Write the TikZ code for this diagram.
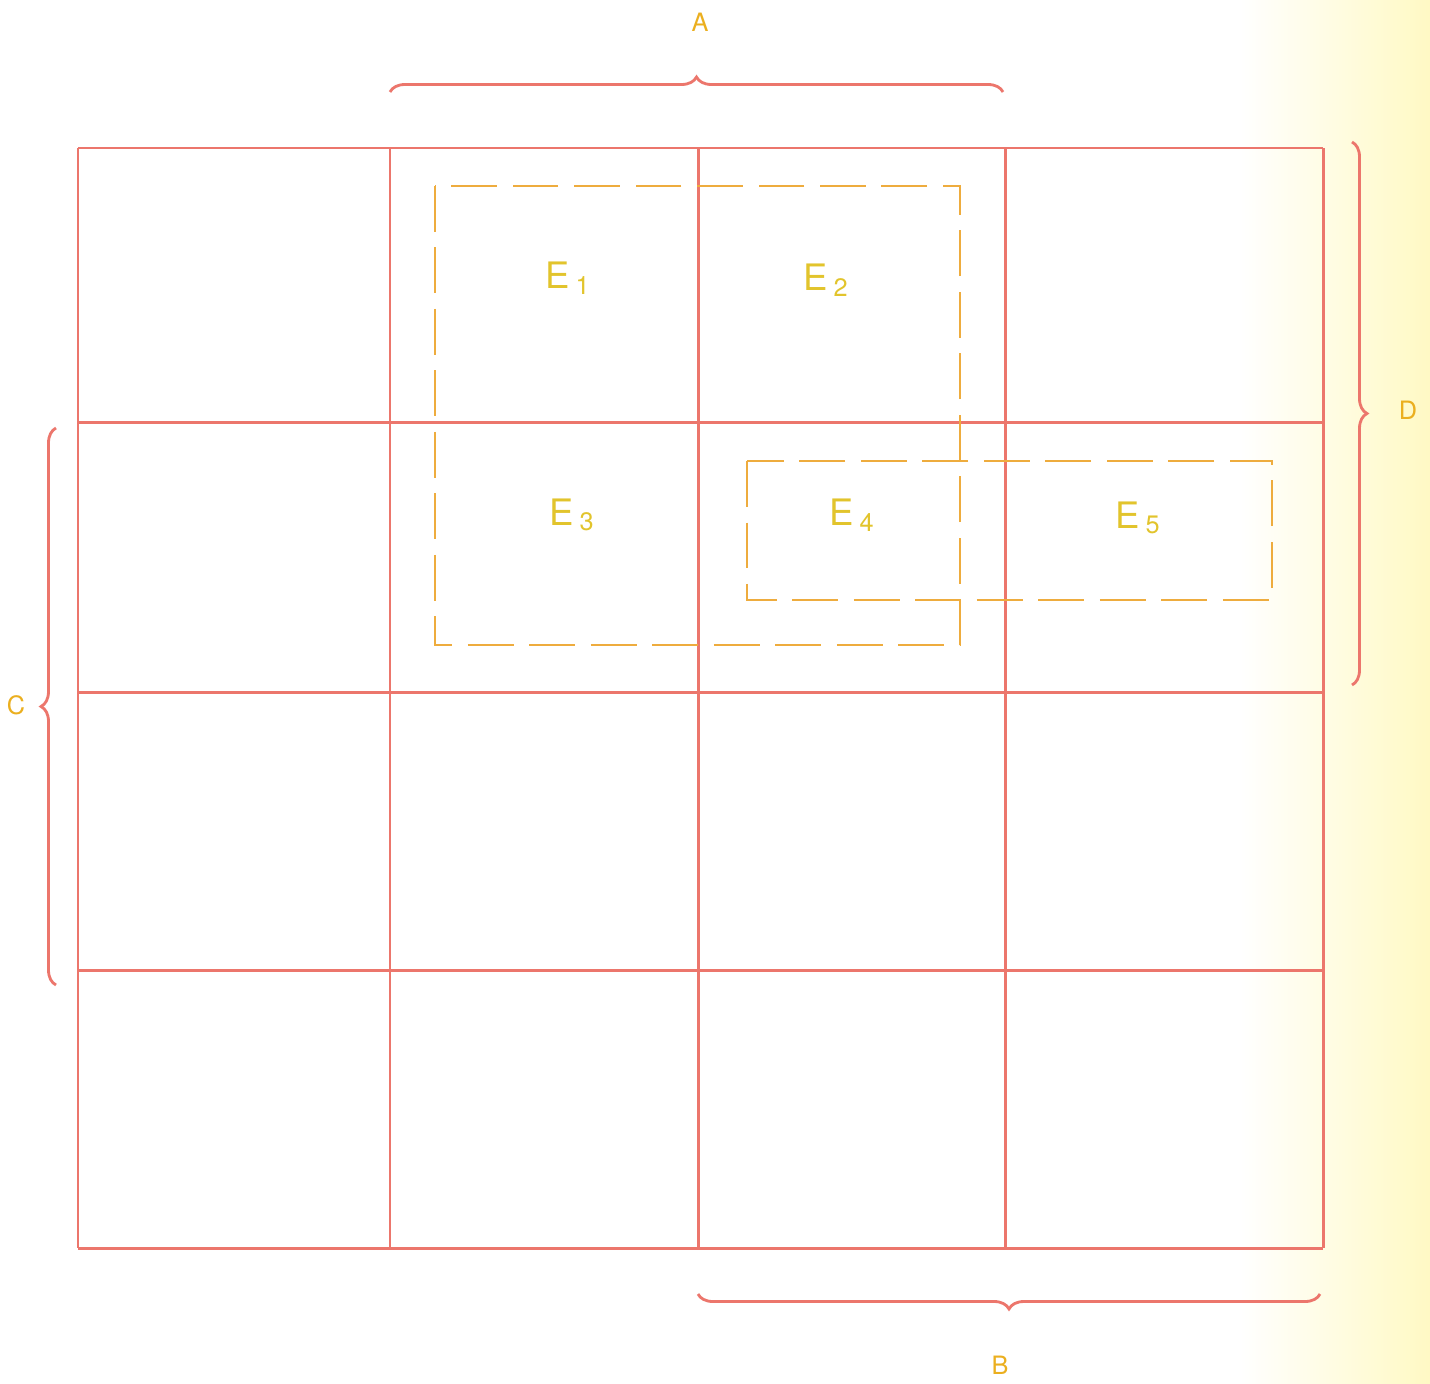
\documentclass[tikz,border=0pt]{standalone}
\usepackage{fontspec}
\setsansfont{TeX Gyre Heros}
\usetikzlibrary{positioning,decorations.pathreplacing}

\definecolor{gridred}{RGB}{236,118,108}
\definecolor{boxorange}{RGB}{238,172,62}
\definecolor{labelyellow}{RGB}{226,196,44}
\definecolor{bgyellow}{RGB}{255,249,196}

\begin{document}
\begin{tikzpicture}[x=0.02cm,y=-0.02cm,
  cellline/.style={gridred,line width=1.7pt},
  groupbox/.style={boxorange,line width=1.6pt,dash pattern=on 26pt off 9pt},
  bracepath/.style={gridred,line width=1.6pt,decorate,decoration={brace,amplitude=0.3cm}},
  varlabel/.style={labelyellow!70!orange,font=\sffamily\Large},
  termlabel/.style={labelyellow,font=\sffamily\huge}]
\useasboundingbox (0,0) rectangle (1430,1383);
% ---- scanned paper tint ----
\fill[white] (0,0) rectangle (1430,1383);
\shade[left color=white,right color=bgyellow] (1240,0) rectangle (1430,1383);
% ---- 4x4 map ----
\foreach \gx in {78,390,698,1005,1323}
  \draw[cellline] (\gx,148) -- (\gx,1248);
\foreach \gy in {148,422,692,970,1248}
  \draw[cellline] (78,\gy) -- (1323,\gy);
% ---- grouped terms ----
\draw[groupbox] (435,186) rectangle (960,645);
\draw[groupbox] (747,461) rectangle (1272,600);
\node[termlabel] (e1) at (568,278) {E\,\textsubscript{1}};
\node[termlabel] (e2) at (826,280) {E\,\textsubscript{2}};
\node[termlabel] (e3) at (572,515) {E\,\textsubscript{3}};
\node[termlabel] (e4) at (852,515) {E\,\textsubscript{4}};
\node[termlabel] (e5) at (1138,518) {E\,\textsubscript{5}};
% ---- variable braces ----
\coordinate (a1) at (390,92);  \coordinate (a2) at (1003,92);
\coordinate (b1) at (1320,1294); \coordinate (b2) at (698,1294);
\coordinate (c1) at (56,985);  \coordinate (c2) at (56,428);
\coordinate (d1) at (1352,142); \coordinate (d2) at (1352,685);
\draw[bracepath] (a1) -- (a2);
\draw[bracepath] (b1) -- (b2);
\draw[bracepath] (c1) -- (c2);
\draw[bracepath] (d1) -- (d2);
\node[varlabel] (la) at (700,22) {A};
\node[varlabel] (lb) at (1000,1365) {B};
\node[varlabel] (lc) at (16,705) {C};
\node[varlabel] (ld) at (1408,410) {D};
\end{tikzpicture}
\end{document}
